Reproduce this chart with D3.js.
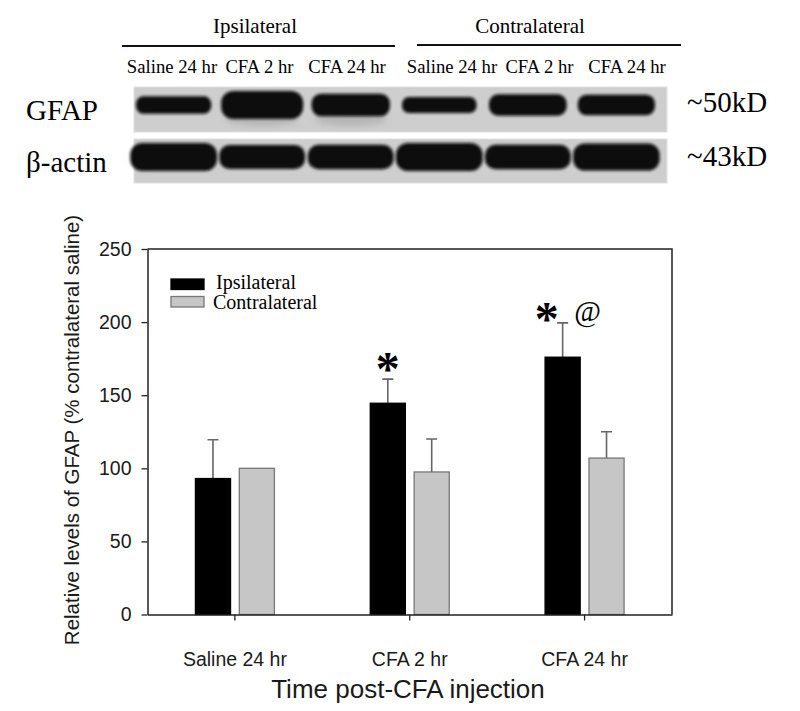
<!DOCTYPE html>
<html>
<head>
<meta charset="utf-8">
<script src="https://cdn.jsdelivr.net/npm/d3@7/dist/d3.min.js"></script>
<style>
  body { margin: 0; background: #fff; }
  svg { display: block; }
</style>
</head>
<body>
<div id="chart"></div>
<script>
// data
const groups = ["Ipsilateral", "Contralateral"];
const timepoints = ["Saline 24 hr", "CFA 2 hr", "CFA 24 hr"];
const ipsiMean = [93, 144.5, 176];
const ipsiSem = [26.5, 16.5, 23.5];
const contraMean = [100, 97.5, 107];
const contraSem = [0, 22.5, 18];
const yTicks = [0, 50, 100, 150, 200, 250];

// western blot lanes (relative band density)
const laneLabels = timepoints.concat(timepoints);
const gfapSignal = [0.62, 1.0, 0.8, 0.58, 0.76, 0.73];
const actinSignal = [1.0, 0.85, 0.87, 1.0, 0.87, 0.97];

// significance marks: [timepoint index, group, symbol]
const sigMarks = [[1, "Ipsilateral", "*"], [2, "Ipsilateral", "*"], [2, "Contralateral", "@"]];

const serif = "'Liberation Serif', 'Times New Roman', serif";
const sans = "'Liberation Sans', Arial, sans-serif";

const svg = d3.select("#chart").append("svg")
    .attr("width", 800)
    .attr("height", 711);

const defs = svg.append("defs");
defs.append("filter").attr("id", "blur")
    .attr("x", "-20%").attr("y", "-40%").attr("width", "140%").attr("height", "180%")
  .append("feGaussianBlur").attr("stdDeviation", 1.8);
defs.append("filter").attr("id", "smear")
    .attr("x", "-30%").attr("y", "-60%").attr("width", "160%").attr("height", "220%")
  .append("feGaussianBlur").attr("stdDeviation", 3);

// ---------- blot ----------
const blot = svg.append("g");
const lane = d3.scaleBand(d3.range(6), [132, 658]).paddingInner(0.06);
// lane captions sit a bit apart from the bands
const caption = d3.scalePoint(d3.range(3), [172, 347]);
const captionX = i => caption(i % 3) + (i < 3 ? 0 : 280);

blot.append("text").text("Ipsilateral")
    .attr("x", 255).attr("y", 33).attr("text-anchor", "middle")
    .style("font-family", serif).style("font-size", "21px");
blot.append("text").text("Contralateral")
    .attr("x", 530).attr("y", 33).attr("text-anchor", "middle")
    .style("font-family", serif).style("font-size", "21px");
blot.append("line").attr("x1", 122).attr("x2", 395).attr("y1", 46).attr("y2", 46)
    .attr("stroke", "#111").attr("stroke-width", 2);
blot.append("line").attr("x1", 417).attr("x2", 681).attr("y1", 45).attr("y2", 45)
    .attr("stroke", "#111").attr("stroke-width", 2);

blot.selectAll(".lane-label")
    .data(laneLabels)
    .enter().append("text")
    .attr("class", "lane-label")
    .attr("x", (d, i) => captionX(i))
    .attr("y", 73)
    .attr("text-anchor", "middle")
    .style("font-family", serif).style("font-size", "18.7px")
    .text(d => d);

const panels = [
  {name: "GFAP", size: "~50kD", y: 87, h: 45, signal: gfapSignal, cy: 105, base: "gfap"},
  {name: "\u03b2-actin", size: "~43kD", y: 139, h: 44, signal: actinSignal, cy: 157, base: "actin"}
];

panels.forEach(function(p) {
  blot.append("rect")
      .attr("x", 134).attr("y", p.y).attr("width", 533).attr("height", p.h)
      .attr("fill", "#cecece").attr("stroke", "#e0e0e0").attr("stroke-width", 1);

  if (p.base === "gfap") {
    // faint smear under the strongest bands
    blot.selectAll(".smear")
        .data([1, 2])
        .enter().append("ellipse")
        .attr("cx", i => lane(i) + lane.bandwidth() / 2)
        .attr("cy", p.cy + 14)
        .attr("rx", 36).attr("ry", 7)
        .attr("fill", "#888").attr("opacity", 0.35)
        .attr("filter", "url(#smear)");
  }

  const bandW = s => p.base === "gfap" ? 64 + 18 * s : lane.step() * (0.9 + 0.08 * s);

  blot.selectAll(".band-" + p.base)
      .data(p.signal)
      .enter().append("rect")
      .attr("class", "band-" + p.base)
      .attr("x", (s, i) => lane(i) + lane.bandwidth() / 2 - bandW(s) / 2)
      .attr("width", bandW)
      .attr("y", s => p.cy - 14 * s)
      .attr("height", s => 28 * s)
      .attr("rx", s => 12 * s)
      .attr("fill", "#0b0b0b")
      .attr("filter", "url(#blur)");

  blot.append("text").text(p.name)
      .attr("x", 26).attr("y", p.cy + 15)
      .style("font-family", serif).style("font-size", "29px");
  blot.append("text").text(p.size)
      .attr("x", 687).attr("y", p.cy + 7 + (p.base === "actin" ? 2 : 0))
      .style("font-family", serif).style("font-size", "29px");
});

// ---------- bar chart ----------
const plotLeft = 147.5, plotRight = 672, plotTop = 249, plotBottom = 614.5;

const x = d3.scaleBand(timepoints, [plotLeft, plotRight]);
const xSub = d3.scaleBand(groups, [-39.5, 39.5]).paddingInner(0.2);
const y = d3.scaleLinear([0, 250], [plotBottom, plotTop]);
const color = d3.scaleOrdinal(groups, ["#000000", "#c6c6c6"]);
const stroke = d3.scaleOrdinal(groups, ["#000000", "#777777"]);

const rows = [];
timepoints.forEach(function(t, i) {
  rows.push({t: t, i: i, g: "Ipsilateral", v: ipsiMean[i], e: ipsiSem[i]});
  rows.push({t: t, i: i, g: "Contralateral", v: contraMean[i], e: contraSem[i]});
});

const chart = svg.append("g");

// frame (top + right)
chart.append("path")
    .attr("d", `M${plotLeft},${plotTop}H${plotRight}V${plotBottom}`)
    .attr("fill", "none").attr("stroke", "#222").attr("stroke-width", 1.5);

const barX = d => x(d.t) + x.bandwidth() / 2 + xSub(d.g);

chart.selectAll(".err")
    .data(rows.filter(d => d.e > 0))
    .enter().append("path")
    .attr("class", "err")
    .attr("d", function(d) {
      const cx = barX(d) + xSub.bandwidth() / 2;
      return `M${cx},${y(d.v)}V${y(d.v + d.e)}M${cx - 5.5},${y(d.v + d.e)}H${cx + 5.5}`;
    })
    .attr("fill", "none").attr("stroke", "#666").attr("stroke-width", 1.6);

chart.selectAll(".bar")
    .data(rows)
    .enter().append("rect")
    .attr("class", "bar")
    .attr("x", barX)
    .attr("width", xSub.bandwidth())
    .attr("y", d => y(d.v))
    .attr("height", d => y(0) - y(d.v))
    .attr("fill", d => color(d.g))
    .attr("stroke", d => stroke(d.g))
    .attr("stroke-width", 1.3);

// axes
const yAxis = chart.append("g")
    .attr("transform", `translate(${plotLeft},0)`)
    .call(d3.axisLeft(y).tickValues(yTicks).tickSize(6).tickPadding(10).tickSizeOuter(0));
const xAxis = chart.append("g")
    .attr("transform", `translate(0,${plotBottom})`)
    .call(d3.axisBottom(x).tickSize(6).tickPadding(32).tickSizeOuter(0));

[yAxis, xAxis].forEach(function(a) {
  a.select(".domain").attr("stroke", "#222").attr("stroke-width", 1.5);
  a.selectAll(".tick line").attr("stroke", "#222").attr("stroke-width", 1.3);
  a.selectAll(".tick text").attr("fill", "#1a1a1a")
      .style("font-family", sans).style("font-size", "19.5px");
});

svg.append("text")
    .attr("transform", "translate(79,430) rotate(-90)")
    .attr("text-anchor", "middle")
    .style("font-family", sans).style("font-size", "20.5px").attr("fill", "#1a1a1a")
    .text("Relative levels of GFAP (% contralateral saline)");

svg.append("text")
    .attr("x", 408).attr("y", 698)
    .attr("text-anchor", "middle")
    .style("font-family", sans).style("font-size", "26px").attr("fill", "#1a1a1a")
    .text("Time post-CFA injection");

// legend
const legend = chart.append("g").attr("transform", "translate(171,279)");
legend.selectAll("rect")
    .data(groups)
    .enter().append("rect")
    .attr("x", 0).attr("y", (d, i) => i * 17.5)
    .attr("width", 33).attr("height", 10.5)
    .attr("fill", d => color(d))
    .attr("stroke", d => stroke(d)).attr("stroke-width", 1.3);
legend.selectAll("text")
    .data(groups)
    .enter().append("text")
    .attr("x", (d, i) => i === 0 ? 45 : 42)
    .attr("y", (d, i) => 10 + i * 20)
    .style("font-family", serif).style("font-size", "20px")
    .text(d => d);

// significance symbols
chart.selectAll(".sig")
    .data(sigMarks)
    .enter().append("text")
    .attr("class", "sig")
    .attr("x", function(d) {
      const cx = barX({t: timepoints[d[0]], g: "Ipsilateral"}) + xSub.bandwidth() / 2;
      if (d[2] === "@") return cx + 25;
      return d[0] === 2 ? cx - 16 : cx;
    })
    .attr("y", function(d) {
      const top = y(ipsiMean[d[0]] + ipsiSem[d[0]]);
      if (d[2] === "@") return top - 2;
      return top + (d[0] === 2 ? 12 : 6);
    })
    .attr("text-anchor", "middle")
    .style("font-family", serif)
    .style("font-weight", d => d[2] === "*" ? "bold" : "normal")
    .style("font-size", d => d[2] === "*" ? "48px" : "29px")
    .text(d => d[2]);
</script>
</body>
</html>
